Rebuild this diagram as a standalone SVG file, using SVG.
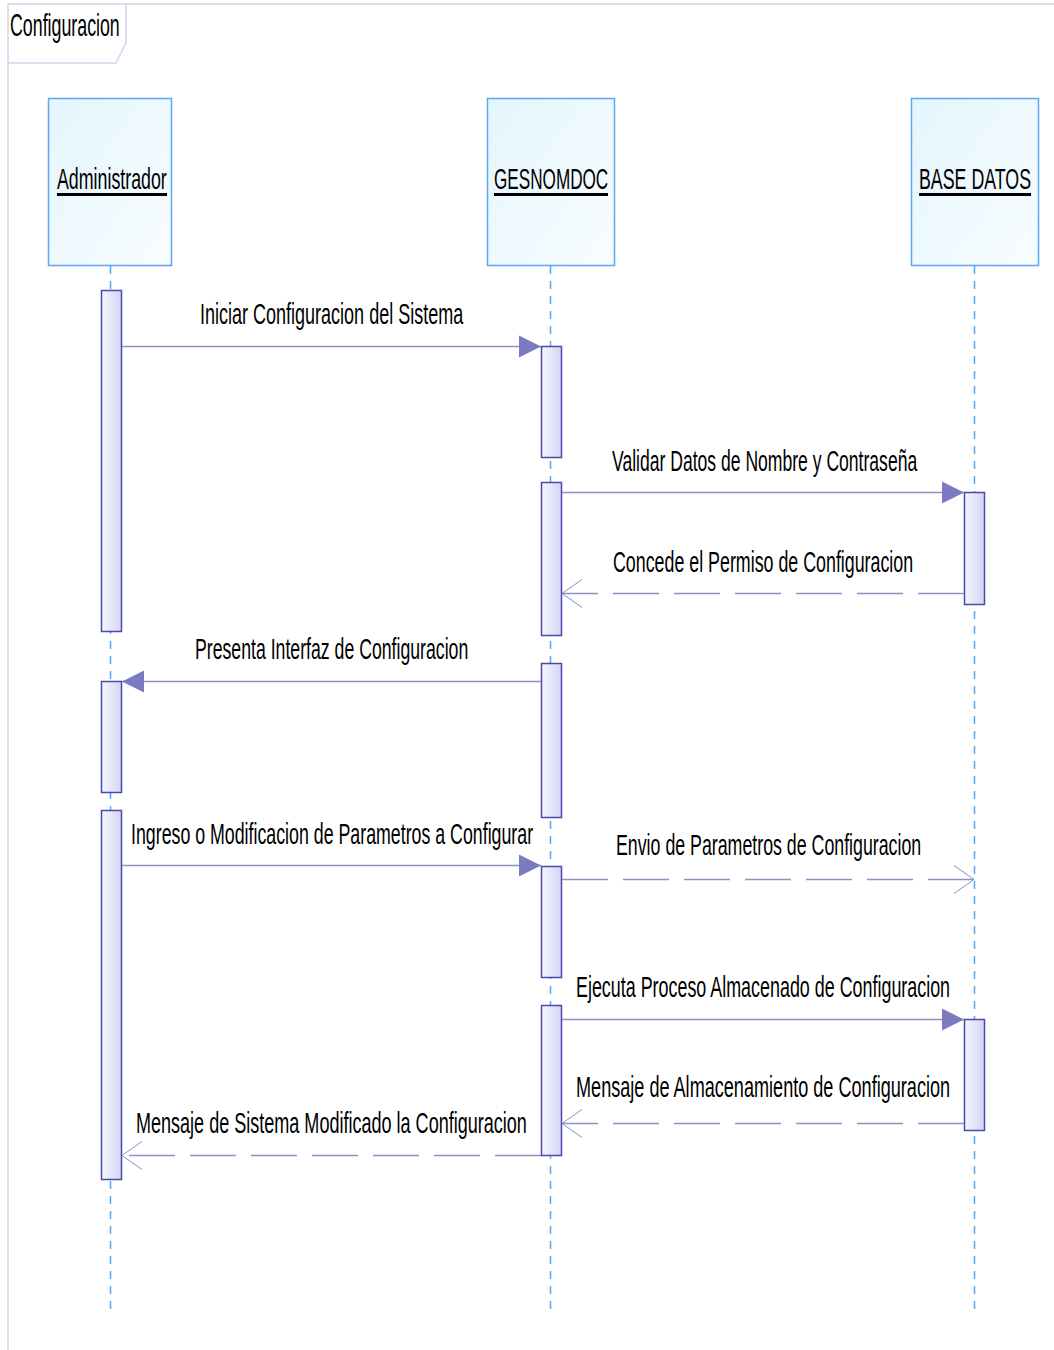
<svg xmlns="http://www.w3.org/2000/svg" width="1054" height="1350" viewBox="0 0 1054 1350">
<defs>
<linearGradient id="gLife" x1="0" y1="0" x2="1" y2="1">
<stop offset="0" stop-color="#e4f6fc"/>
<stop offset="1" stop-color="#f8fcff"/>
</linearGradient>
<linearGradient id="gAct" x1="0" y1="0" x2="1" y2="0">
<stop offset="0" stop-color="#f6f6fe"/>
<stop offset="1" stop-color="#d4d4f6"/>
</linearGradient>
<marker id="filled" markerWidth="22" markerHeight="24" refX="22" refY="12" orient="auto" markerUnits="userSpaceOnUse">
<path d="M0,1 L22,12 L0,23 Z" fill="#7b7bc2"/>
</marker>
<marker id="open" markerWidth="22" markerHeight="30" refX="21" refY="15" orient="auto" markerUnits="userSpaceOnUse">
<path d="M1,1 L21,15 L1,29" fill="none" stroke="#8c8cd0" stroke-width="1"/>
</marker>
</defs>
<style>
.t{font-family:"Liberation Sans",Arial,sans-serif;font-size:30px;fill:#000}
.tt{font-family:"Liberation Sans",Arial,sans-serif;font-size:32px;fill:#000}
.head{fill:url(#gLife);stroke:#5aa6f2;stroke-width:1.5}
.life{stroke:#55a8f5;stroke-width:1.5;stroke-dasharray:8,7;fill:none}
.act{fill:url(#gAct);stroke:#4a4aa8;stroke-width:1.5}
.msg{stroke:#9090c8;stroke-width:1.3;fill:none}
.ret{stroke:#9090c8;stroke-width:1.3;fill:none;stroke-dasharray:46,15}
.ul{stroke:#000;stroke-width:3}
</style>
<rect x="0" y="0" width="1054" height="1350" fill="#fff"/>
<g id="frame">
<path d="M8,1350 L8,4 L1054,4" fill="none" stroke="#d4d4ec" stroke-width="1.5"/>
<path d="M8,63 L116,63 L126,43 L126,4" fill="none" stroke="#d4d4ec" stroke-width="1.5"/>
<text class="tt" transform="translate(10,36) scale(0.56,1)" textLength="196" lengthAdjust="spacingAndGlyphs">Configuracion</text>
</g>
<g id="lifelines">
<line class="life" x1="110.5" y1="266" x2="110.5" y2="1312"/>
<line class="life" x1="550.5" y1="266" x2="550.5" y2="1312"/>
<line class="life" x1="974.5" y1="266" x2="974.5" y2="1312"/>
</g>
<g id="administrador">
<rect class="head" x="48.5" y="98.5" width="123" height="167"/>
<text class="t" transform="translate(57,189) scale(0.56,1)" textLength="196" lengthAdjust="spacingAndGlyphs">Administrador</text>
<line class="ul" x1="57" y1="194.5" x2="167" y2="194.5"/>
</g>
<g id="gesnomdoc">
<rect class="head" x="487.5" y="98.5" width="127" height="167"/>
<text class="t" transform="translate(494,189) scale(0.56,1)" textLength="204" lengthAdjust="spacingAndGlyphs">GESNOMDOC</text>
<line class="ul" x1="494" y1="194.5" x2="608" y2="194.5"/>
</g>
<g id="base_datos">
<rect class="head" x="911.5" y="98.5" width="127" height="167"/>
<text class="t" transform="translate(919,189) scale(0.56,1)" textLength="200" lengthAdjust="spacingAndGlyphs">BASE DATOS</text>
<line class="ul" x1="919" y1="194.5" x2="1031" y2="194.5"/>
</g>
<g id="activations">
<rect class="act" x="101.5" y="290.5" width="20" height="341"/>
<rect class="act" x="101.5" y="681.5" width="20" height="111"/>
<rect class="act" x="101.5" y="810.5" width="20" height="369"/>
<rect class="act" x="541.5" y="346.5" width="20" height="111"/>
<rect class="act" x="541.5" y="482.5" width="20" height="153"/>
<rect class="act" x="541.5" y="663.5" width="20" height="154"/>
<rect class="act" x="541.5" y="866.5" width="20" height="111"/>
<rect class="act" x="541.5" y="1005.5" width="20" height="150"/>
<rect class="act" x="964.5" y="492.5" width="20" height="112"/>
<rect class="act" x="964.5" y="1019.5" width="20" height="111"/>
</g>
<g id="connectors">
<line class="msg" x1="122" y1="346.5" x2="541" y2="346.5" marker-end="url(#filled)"/>
<line class="msg" x1="562" y1="492.5" x2="964" y2="492.5" marker-end="url(#filled)"/>
<line class="ret" x1="964" y1="593.5" x2="562" y2="593.5" marker-end="url(#open)"/>
<line class="msg" x1="541" y1="681.5" x2="122" y2="681.5" marker-end="url(#filled)"/>
<line class="msg" x1="122" y1="865.5" x2="541" y2="865.5" marker-end="url(#filled)"/>
<line class="ret" x1="562" y1="879.5" x2="974" y2="879.5" marker-end="url(#open)"/>
<line class="msg" x1="562" y1="1019.5" x2="964" y2="1019.5" marker-end="url(#filled)"/>
<line class="ret" x1="964" y1="1123.5" x2="562" y2="1123.5" marker-end="url(#open)"/>
<line class="ret" x1="541" y1="1155.5" x2="122" y2="1155.5" marker-end="url(#open)"/>
</g>
<g id="labels">
<text class="t" transform="translate(200,324) scale(0.56,1)" textLength="470" lengthAdjust="spacingAndGlyphs">Iniciar Configuracion del Sistema</text>
<text class="t" transform="translate(612,471) scale(0.56,1)" textLength="545" lengthAdjust="spacingAndGlyphs">Validar Datos de Nombre y Contraseña</text>
<text class="t" transform="translate(613,572) scale(0.56,1)" textLength="536" lengthAdjust="spacingAndGlyphs">Concede el Permiso de Configuracion</text>
<text class="t" transform="translate(195,659) scale(0.56,1)" textLength="488" lengthAdjust="spacingAndGlyphs">Presenta Interfaz de Configuracion</text>
<text class="t" transform="translate(131,844) scale(0.56,1)" textLength="718" lengthAdjust="spacingAndGlyphs">Ingreso o Modificacion de Parametros a Configurar</text>
<text class="t" transform="translate(616,855) scale(0.56,1)" textLength="545" lengthAdjust="spacingAndGlyphs">Envio de Parametros de Configuracion</text>
<text class="t" transform="translate(576,997) scale(0.56,1)" textLength="668" lengthAdjust="spacingAndGlyphs">Ejecuta Proceso Almacenado de Configuracion</text>
<text class="t" transform="translate(576,1097) scale(0.56,1)" textLength="668" lengthAdjust="spacingAndGlyphs">Mensaje de Almacenamiento de Configuracion</text>
<text class="t" transform="translate(136,1133) scale(0.56,1)" textLength="698" lengthAdjust="spacingAndGlyphs">Mensaje de Sistema Modificado la Configuracion</text>
</g>
</svg>
